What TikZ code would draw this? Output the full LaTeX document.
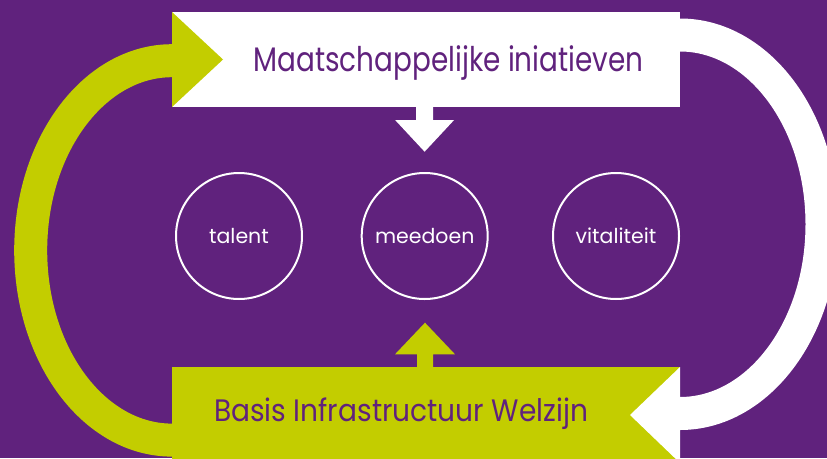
\documentclass[tikz,border=0pt]{standalone}
\usepackage{fontspec}
\setmainfont{Poppins}
\newfontfamily\toptextfont{Poppins}[FakeStretch=0.82]
\newfontfamily\bottextfont{Poppins}[FakeStretch=0.905]
\usetikzlibrary{calc}
\definecolor{bgpurple}{RGB}{96,34,125}
\definecolor{lime}{RGB}{195,205,0}
\begin{document}
\begin{tikzpicture}[x=1pt,y=1pt,
  box/.style={rectangle, inner sep=0pt, outer sep=0pt},
  ring/.style={circle, draw=white, line width=2pt, minimum size=126pt, inner sep=0pt, outer sep=0pt, text=white, font=\fontsize{20.5}{20.5}\selectfont},
  band/.style={line width=33pt, line cap=butt},
  boxtext/.style={anchor=base, text=bgpurple, inner sep=0pt}]
\useasboundingbox (0,0) rectangle (827,-458);
\clip (0,0) rectangle (827,-458);
\fill[bgpurple] (0,0) rectangle (827,-458);
% cycle bands
\draw[band, lime] (182,-60.7) -- (172,-60.7) arc[start angle=90,end angle=270,x radius=141.3,y radius=189.7] -- (185,-440.1);
\draw[band, white] (670,-35) -- (680,-35) arc[start angle=90,end angle=-90,x radius=142,y radius=189.25] -- (665,-413.5);
% boxes
\node[box, fill=white, minimum width=508pt, minimum height=95pt] (top) at (426,-59.5) {};
\node[box, fill=lime, minimum width=508pt, minimum height=100pt] (bot) at (426,-417) {};
% arrowheads of the bands
\fill[lime] (top.north west) -- ($(top.west)+(51,0)$) -- (top.south west) -- cycle;
\fill[white] (bot.north east) -- (630,-415) -- (680,-463) -- cycle;
% circles
\node[ring] (t) at (239,-236) {talent};
\node[ring] (m) at (424.7,-236) {meedoen};
\node[ring] (v) at (616,-236) {vitaliteit};
% small arrows
\coordinate (dn) at (top.south -| 424.6,0);
\coordinate (up) at (bot.north -| 425,0);
\fill[white] ($(dn)+(-8.5,0)$) -- ++(0,-13) -- ++(-21,0) -- ($(dn)+(0,-44.7)$) -- ($(dn)+(29.5,-13)$) -- ++(-21,0) -- ($(dn)+(8.5,0)$) -- cycle;
\fill[lime] ($(up)+(-8,0)$) -- ++(0,12.7) -- ++(-22,0) -- ($(up)+(0,44.3)$) -- ($(up)+(30,12.7)$) -- ++(-22,0) -- ($(up)+(8,0)$) -- cycle;
% texts
\node[boxtext, font=\toptextfont\fontsize{34}{34}\selectfont] (tt) at (448.5,-71.7) {Maatschappelijke iniatieven};
\node[boxtext, font=\bottextfont\fontsize{31}{31}\selectfont] (bt) at (401,-421.7) {Basis Infrastructuur Welzijn};
\end{tikzpicture}
\end{document}
